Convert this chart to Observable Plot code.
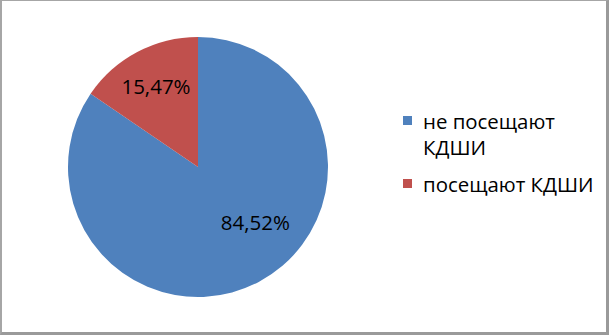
<!DOCTYPE html>
<html>
<head>
<meta charset="utf-8">
<script src="https://cdn.jsdelivr.net/npm/d3@7"></script>
<script src="https://cdn.jsdelivr.net/npm/@observablehq/plot@0.6"></script>
<style>
  html, body { margin: 0; padding: 0; background: #fff; }
  #chart { position: relative; width: 609px; height: 335px; overflow: hidden; font-family: "Open Sans", sans-serif; }
  #chart svg { display: block; }
  #frame {
    position: absolute; left: 0; top: 0; width: 609px; height: 335px; box-sizing: border-box;
    border-top: 1px solid #a6a6a6; border-left: 2px solid #a6a6a6;
    border-right: 3px solid #9a9a9a; border-bottom: 3px solid #9a9a9a;
    pointer-events: none;
  }
  #legend { position: absolute; left: 403px; top: 108px; font-size: 20.4px; line-height: 26px; color: #000; }
  .item { position: relative; padding-left: 20px; }
  .item + .item { margin-top: 11px; }
  .swatch { position: absolute; left: 0; top: 8px; width: 9px; height: 9px; }
</style>
</head>
<body>
<div id="chart"></div>
<script>
// Share of pupils attending the children's art school (КДШИ)
const categories = ["не посещают КДШИ", "посещают КДШИ"];
const legendLines = [["не посещают", "КДШИ"], ["посещают КДШИ"]];
const values = [84.52, 15.47];
const labels = ["84,52%", "15,47%"];
const colors = ["#4F81BD", "#C0504D"];

// Slices start at 12 o'clock and run clockwise
const total = d3.sum(values);
let acc = 0;
const slices = categories.map((name, i) => {
  const start = acc / total * 2 * Math.PI;
  acc += values[i];
  const end = acc / total * 2 * Math.PI;
  return {name, value: values[i], label: labels[i], start, end, mid: (start + end) / 2};
});

// Pie drawn through the x/y scales: centre at (0,0), radius 1 in data units
function pie(data) {
  return (index, scales) => {
    const cx = scales.x(0), cy = scales.y(0);
    const r = Math.abs(scales.x(1) - scales.x(0));
    const arc = d3.arc().innerRadius(0).outerRadius(r);
    const g = d3.create("svg:g").attr("transform", `translate(${cx},${cy})`);
    g.selectAll("path").data(data).join("path")
      .attr("d", d => arc({startAngle: d.start, endAngle: d.end}))
      .attr("fill", d => scales.color(d.name));
    return g.node();
  };
}

const labelAt = (d, k) => ({...d, lx: k * Math.sin(d.mid), ly: k * Math.cos(d.mid)});

const plot = Plot.plot({
  width: 609,
  height: 335,
  marginLeft: 68,
  marginRight: 281,
  marginTop: 37,
  marginBottom: 38,
  x: {domain: [-1, 1], axis: null},
  y: {domain: [-1, 1], axis: null},
  color: {domain: categories, range: colors},
  style: {fontFamily: "Open Sans, sans-serif", background: "transparent"},
  marks: [
    pie(slices),
    Plot.text([labelAt(slices[1], 0.70)], {
      x: "lx", y: "ly", text: "label", fontSize: 20.5, fill: "#000", dy: 0
    }),
    Plot.text([labelAt(slices[0], 0.64)], {
      x: "lx", y: "ly", text: "label", fontSize: 20.5, fill: "#000", dx: 18, dy: -18
    })
  ]
});

const chart = document.getElementById("chart");
chart.appendChild(plot);

// Legend
const legend = d3.select(chart).append("div").attr("id", "legend");
categories.forEach((name, i) => {
  const item = legend.append("div").attr("class", "item");
  item.append("div").attr("class", "swatch").style("background", colors[i]);
  legendLines[i].forEach(line => item.append("div").text(line));
});

d3.select(chart).append("div").attr("id", "frame");
</script>
</body>
</html>
